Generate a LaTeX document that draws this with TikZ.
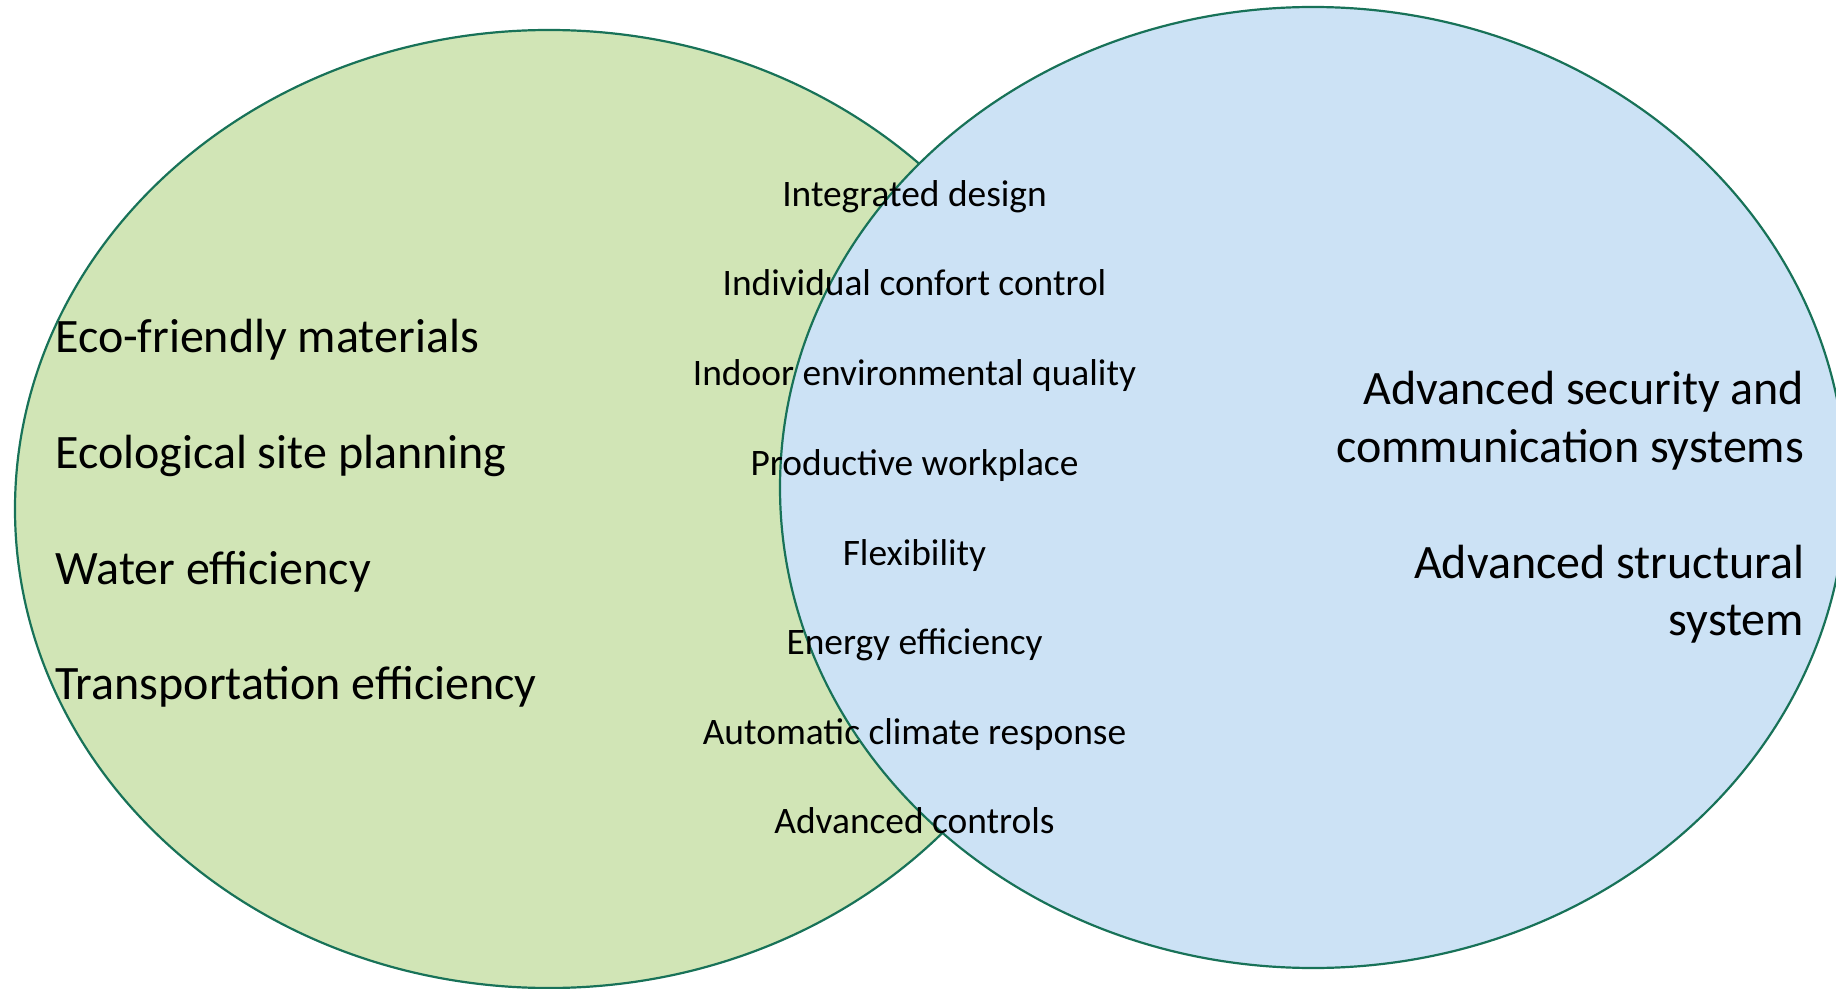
\documentclass[tikz,border=0pt]{standalone}
\usepackage{fontspec}
\setmainfont{Carlito}
\definecolor{vgreen}{HTML}{D1E5B6}
\definecolor{vblue}{HTML}{CCE2F5}
\definecolor{vline}{HTML}{187258}
\begin{document}
\begin{tikzpicture}[x=0.5pt,y=-0.5pt,
  venn/.style={draw=vline,line width=1.1pt},
  bigtxt/.style={inner sep=0pt,font=\fontsize{24}{29.25}\selectfont},
  smalltxt/.style={inner sep=0pt,anchor=base,font=\fontsize{18.7}{22}\selectfont}]
\useasboundingbox (0,0) rectangle (1836,989);
\begin{scope}
\clip (0,0) rectangle (1836,989);
\fill[white] (0,0) rectangle (1836,989);
\path[venn,fill=vgreen] (549,509) ellipse [x radius=534, y radius=479];
\path[venn,fill=vblue] (1313,487.5) ellipse [x radius=533, y radius=480.5];
\end{scope}
% left texts
\node[bigtxt,anchor=base west] (l1) at (55,353) {Eco-friendly materials};
\node[bigtxt,anchor=base west] (l2) at (55,468) {Ecological site planning};
\node[bigtxt,anchor=base west] (l3) at (55,584) {Water efficiency};
\node[bigtxt,anchor=base west] (l4) at (55,699) {Transportation efficiency};
% right texts
\node[bigtxt,anchor=base east] (r1) at (1804.5,405) {Advanced security and};
\node[bigtxt,anchor=base east] (r2) at (1804.5,463) {communication systems};
\node[bigtxt,anchor=base east] (r3) at (1804.5,578) {Advanced structural};
\node[bigtxt,anchor=base east] (r4) at (1804.5,635) {system};
% middle texts
\node[smalltxt] (m1) at (914.5,207) {Integrated design};
\node[smalltxt] (m2) at (914.5,296) {Individual confort control};
\node[smalltxt] (m3) at (914.5,386) {Indoor environmental quality};
\node[smalltxt] (m4) at (914.5,475) {Productive workplace};
\node[smalltxt] (m5) at (914.5,565) {Flexibility};
\node[smalltxt] (m6) at (914.5,654) {Energy efficiency};
\node[smalltxt] (m7) at (914.5,744) {Automatic climate response};
\node[smalltxt] (m8) at (914.5,833) {Advanced controls};
\end{tikzpicture}
\end{document}
